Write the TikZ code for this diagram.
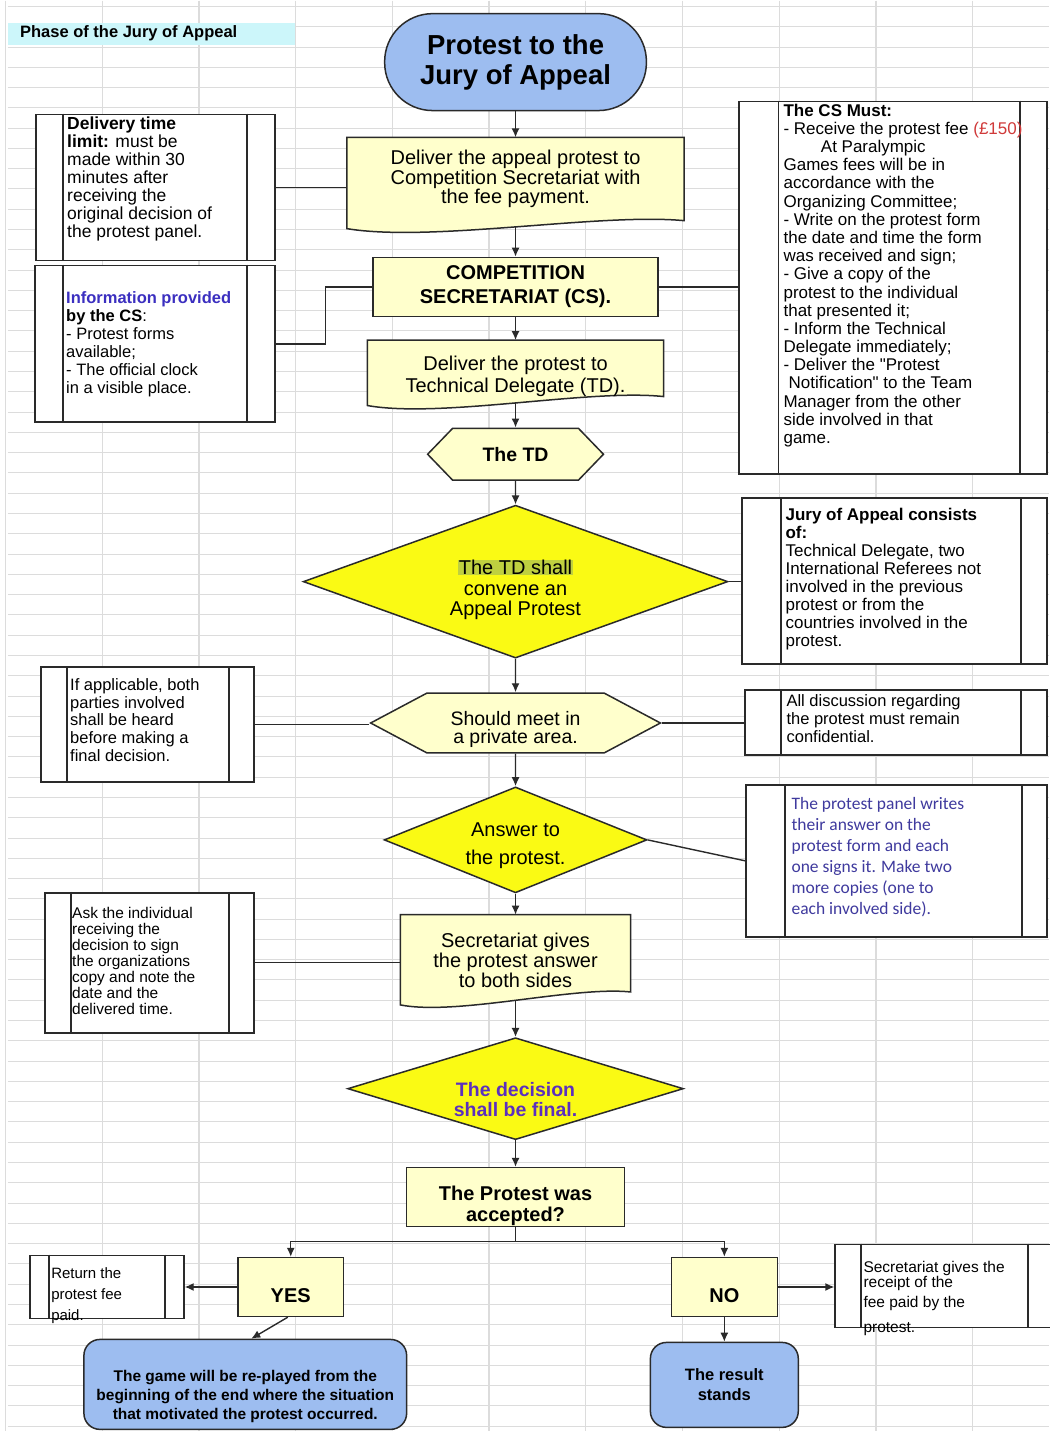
\documentclass[tikz,border=0pt]{standalone}
\usepackage{fontspec}
\setmainfont{Liberation Sans}
\newfontfamily\panelfont{Carlito}
\usepackage{xcolor}
\usepackage{tikz}
\usetikzlibrary{positioning,calc,backgrounds}
\usetikzlibrary{shapes.geometric,shapes.symbols}
\usetikzlibrary{arrows.meta}

\definecolor{startblue}{HTML}{9DBDF0}
\definecolor{paleyellow}{HTML}{FFFFCC}
\definecolor{brightyellow}{HTML}{FAFA14}
\definecolor{titlecyan}{HTML}{CCF6FA}
\definecolor{gridgray}{HTML}{DCDCDC}
\definecolor{infoblue}{HTML}{3B2FC0}
\definecolor{panelblue}{HTML}{3F3A9E}
\definecolor{decisionpurple}{HTML}{5B2FBF}
\definecolor{feered}{HTML}{D03A3A}
\definecolor{lineblack}{HTML}{2A2A2A}
\definecolor{tdgreen}{HTML}{BFD040}

\begin{document}
\begin{tikzpicture}[x=1pt, y=-1pt,
  flowline/.style={draw=lineblack, line width=1.4pt},
  flowarrow/.style={flowline, -{Latex[length=9pt,width=8pt]}},
  flowbox/.style={draw=lineblack, line width=1.5pt, fill=paleyellow, shape=rectangle, align=center, inner sep=0pt},
  docbox/.style={shape=rectangle, align=center, inner sep=0pt},
  docline/.style={draw=lineblack, line width=1.5pt, fill=paleyellow},
  hexbox/.style={draw=lineblack, line width=1.5pt, fill=paleyellow, shape=signal, signal to=west and east, align=center, inner sep=0pt},
  decision/.style={draw=lineblack, line width=1.5pt, fill=brightyellow, shape=diamond, align=center, inner sep=0pt},
  terminal/.style={draw=lineblack, line width=1.5pt, fill=startblue, shape=rectangle, align=center, inner sep=0pt},
  barline/.style={draw=lineblack, line width=1.8pt},
  procbox/.style 2 args={draw=lineblack, line width=1.8pt, fill=white, shape=rectangle, inner sep=0pt,
    append after command={([xshift=#1]\tikzlastnode.north west) edge[barline] ([xshift=#1]\tikzlastnode.south west)
      ([xshift=-#2]\tikzlastnode.north east) edge[barline] ([xshift=-#2]\tikzlastnode.south east)}},
  note/.style={anchor=north west, align=left, inner sep=0pt},
]
\begin{scope}[on background layer]
\fill[white] (0,0) rectangle (1050,1432);
\foreach \r in {0,...,70}
  \draw[gridgray, line width=0.8pt] (8,5.7+20.3*\r) -- (1050,5.7+20.3*\r);
\foreach \c in {0,...,10}
  \draw[gridgray, line width=1.3pt] (5.5+96.8*\c,0) -- (5.5+96.8*\c,1432);
\end{scope}
\useasboundingbox (0,0) rectangle (1050,1432);

\fill[titlecyan] (8,22) rectangle (295,44);
\node[anchor=west, inner sep=0pt, font=\bfseries\fontsize{16.5}{18}\selectfont] (title) at (20,33) {Phase of the Jury of Appeal};

\node[terminal, minimum width=262pt, minimum height=97pt, rounded corners=48pt, font=\bfseries\fontsize{27.5}{30}\selectfont] (start) at (516,61.5) {Protest to the\\Jury of Appeal};
\node[docbox, minimum width=337pt, minimum height=83pt, font=\fontsize{20}{18.5}\selectfont] (dlv) at (516,178.5) {Deliver the appeal protest to\\Competition Secretariat with\\the fee payment.};
\node[flowbox, minimum width=285pt, minimum height=59pt, font=\bfseries\fontsize{20}{24}\selectfont] (cs) at (516,286.5) {COMPETITION\\SECRETARIAT (CS).};
\node[docbox, minimum width=296pt, minimum height=56pt, font=\fontsize{20}{22}\selectfont] (tdd) at (516,368) {\rule{0pt}{30pt}Deliver the protest to\\Technical Delegate (TD).};
\node[hexbox, minimum width=176pt, minimum height=52pt, signal pointer angle=92, font=\bfseries\fontsize{19.5}{22}\selectfont] (td) at (516,454) {The TD};
\node[decision, minimum width=425pt, minimum height=153pt, aspect=2.8, font=\fontsize{20}{20.5}\selectfont] (d1) at (516,581.5) {\rule{0pt}{31pt}\setlength{\fboxsep}{0.5pt}\colorbox{tdgreen}{The TD shall}\\convene an\\Appeal Protest};
\node[hexbox, minimum width=290pt, minimum height=60pt, signal pointer angle=56, font=\fontsize{19.5}{18.5}\selectfont] (meet) at (516,723) {\rule{0pt}{27pt}Should meet in\\a private area.};
\node[decision, minimum width=263pt, minimum height=106pt, aspect=2.5, font=\fontsize{20}{28}\selectfont] (ans) at (516,840) {\rule{0pt}{26pt}Answer to\\the protest.};
\node[docbox, minimum width=230pt, minimum height=77pt, font=\fontsize{20}{20}\selectfont] (sga) at (516,953.5) {\rule{0pt}{28pt}Secretariat gives\\the protest answer\\to both sides};
\node[decision, minimum width=336pt, minimum height=102pt, aspect=3.3, text=decisionpurple, font=\bfseries\fontsize{19.5}{20}\selectfont] (fin) at (516,1089) {\rule{0pt}{36pt}The decision\\shall be final.};
\node[flowbox, minimum width=218pt, minimum height=59pt, font=\bfseries\fontsize{20}{21}\selectfont] (acc) at (516,1197.5) {\rule{0pt}{32pt}The Protest was\\accepted?};
\node[flowbox, minimum width=106pt, minimum height=59pt, font=\bfseries\fontsize{20}{22}\selectfont] (yes) at (291,1287.5) {\rule{0pt}{31pt}YES};
\node[flowbox, minimum width=106pt, minimum height=59pt, font=\bfseries\fontsize{20}{22}\selectfont] (no) at (725,1287.5) {\rule{0pt}{31pt}NO};
\node[terminal, rounded corners=16pt, minimum width=323pt, minimum height=90pt, font=\bfseries\fontsize{15.5}{19}\selectfont] (game) at (245.5,1385) {\rule{0pt}{36pt}The game will be re-played from the\\beginning of the end where the situation\\that motivated the protest occurred.};
\node[terminal, rounded corners=16pt, minimum width=148pt, minimum height=85pt, font=\bfseries\fontsize{16.5}{20}\selectfont] (res) at (725,1385.5) {The result\\stands};

\begin{scope}[on background layer]
\draw[docline] (dlv.north west) -- (dlv.north east) -- (dlv.south east)
  .. controls ($(dlv.south)!0.5!(dlv.south east)+(0pt,8pt)$) and ($(dlv.south)!0.5!(dlv.south west)+(0pt,-22pt)$) .. ([yshift=-8pt]dlv.south west) -- cycle;
\draw[docline] (tdd.north west) -- (tdd.north east) -- (tdd.south east)
  .. controls ($(tdd.south)!0.5!(tdd.south east)+(0pt,8pt)$) and ($(tdd.south)!0.5!(tdd.south west)+(0pt,-22pt)$) .. ([yshift=-9pt]tdd.south west) -- cycle;
\draw[docline] (sga.north west) -- (sga.north east) -- (sga.south east)
  .. controls ($(sga.south)!0.5!(sga.south east)+(0pt,6pt)$) and ($(sga.south)!0.5!(sga.south west)+(0pt,-24pt)$) .. ([yshift=-13pt]sga.south west) -- cycle;
\end{scope}

\node[procbox={28pt}{29pt}, minimum width=239pt, minimum height=146pt] (del) at (155.5,187) {};
\node[note, font=\fontsize{17.5}{18}\selectfont] (deltext) at ([xshift=32pt,yshift=-3pt]del.north west) {\textbf{Delivery time}\\\textbf{limit:} must be\\made within 30\\minutes after\\receiving the\\original decision of\\the protest panel.};
\node[procbox={29pt}{29pt}, minimum width=240pt, minimum height=157pt] (info) at (155,343.5) {};
\node[anchor=west, align=left, inner sep=0pt, font=\fontsize{16.5}{18}\selectfont] (infotext) at ([xshift=32pt]info.west) {\textcolor{infoblue}{\textbf{Information provided}}\\\textbf{by the CS}:\\- Protest forms\\available;\\- The official clock\\in a visible place.};
\node[procbox={40pt}{28pt}, minimum width=308pt, minimum height=373pt] (must) at (894,287.5) {};
\node[note, font=\fontsize{17}{18.2}\selectfont] (musttext) at ([xshift=45pt,yshift=-3pt]must.north west) {\textbf{The CS Must:}\\- Receive the protest fee \textcolor{feered}{(£150)}\\\hspace*{2.2em}At Paralympic\\Games fees will be in\\accordance with the\\Organizing Committee;\\- Write on the protest form\\the date and time the form\\was received and sign;\\- Give a copy of the\\protest to the individual\\that presented it;\\- Inform the Technical\\Delegate immediately;\\- Deliver the \textquotedbl Protest\\\hspace*{0.3em}Notification\textquotedbl{} to the Team\\Manager from the other\\side involved in that\\game.};
\node[procbox={40pt}{27pt}, minimum width=305pt, minimum height=166pt] (jury) at (895.5,581) {};
\node[note, font=\fontsize{17}{18}\selectfont] (jurytext) at ([xshift=44pt,yshift=-11pt]jury.north west) {\textbf{Jury of Appeal consists}\\\textbf{of:}\\Technical Delegate, two\\International Referees not\\involved in the previous\\protest or from the\\countries involved in the\\protest.};
\node[procbox={37pt}{27pt}, minimum width=302pt, minimum height=65pt] (conf) at (897,722.5) {};
\node[note, font=\fontsize{16.5}{18}\selectfont] (conftext) at ([xshift=42pt,yshift=-5pt]conf.north west) {All discussion regarding\\the protest must remain\\confidential.};
\node[procbox={40pt}{26pt}, minimum width=301pt, minimum height=152pt] (panel) at (897.5,861) {};
\node[note, text=panelblue, font=\panelfont\fontsize{17.5}{21}\selectfont] (paneltext) at ([xshift=46pt,yshift=-13pt]panel.north west) {The protest panel writes\\their answer on the\\protest form and each\\one signs it. Make two\\more copies (one to\\each involved side).};
\node[procbox={27pt}{26pt}, minimum width=213pt, minimum height=115pt] (ifap) at (147.5,724.5) {};
\node[note, font=\fontsize{16.5}{17.8}\selectfont] (ifaptext) at ([xshift=30pt,yshift=-12pt]ifap.north west) {If applicable, both\\parties involved\\shall be heard\\before making a\\final decision.};
\node[procbox={27pt}{26pt}, minimum width=209pt, minimum height=140pt] (ask) at (149.5,963) {};
\node[note, font=\fontsize{15.5}{16}\selectfont] (asktext) at ([xshift=28pt,yshift=-15pt]ask.north west) {Ask the individual\\receiving the\\decision to sign\\the organizations\\copy and note the\\date and the\\delivered time.};
\node[procbox={20pt}{20pt}, minimum width=154pt, minimum height=63pt] (ret) at (107,1287.5) {};
\node[note, font=\fontsize{15}{21}\selectfont] (rettext) at ([xshift=22pt,yshift=-13pt]ret.north west) {Return the\\protest fee\\paid.};
\node[procbox={27pt}{30pt}, minimum width=222pt, minimum height=83pt] (rcp) at (947,1286.5) {};
\node[note, font=\fontsize{15.5}{13}\selectfont] (rcptext) at ([xshift=29pt,yshift=-17pt]rcp.north west) {Secretariat gives the\\receipt of the\\[5pt]fee paid by the\\[10pt]protest.};

\draw[flowarrow] (start) -- (dlv);
\draw[flowarrow] ([yshift=-6pt]dlv.south) -- (cs.north);
\draw[flowarrow] (cs) -- (tdd);
\draw[flowarrow] ([yshift=-6pt]tdd.south) -- (td.north);
\draw[flowarrow] (td) -- (d1);
\draw[flowarrow] (d1) -- (meet);
\draw[flowarrow] (meet) -- (ans);
\draw[flowarrow] (ans) -- (sga);
\draw[flowarrow] ([yshift=-8pt]sga.south) -- (fin.north);
\draw[flowarrow] (fin) -- (acc);
\coordinate (split) at (516,1242);
\draw[flowline] (acc.south) -- (split);
\draw[flowarrow] (split) -| (yes.north);
\draw[flowarrow] (split) -| (no.north);
\draw[flowarrow] (yes.west) -- (ret.east);
\draw[flowarrow] (no.east) -- (no.east -| rcp.west);
\draw[flowarrow] ([xshift=-3pt]yes.south) -- ([xshift=6pt]game.north);
\draw[flowarrow] (no.south) -- (res.north);

\draw[flowline] (del.east) -- (del.east -| dlv.west);
\draw[flowline] (info.east) -- ++(50,0) |- (cs.west);
\draw[flowline] (cs.east) -- (cs.east -| must.west);
\draw[flowline] (d1.east) -- (d1.east -| jury.west);
\draw[flowline] (meet.east) -- (meet.east -| conf.west);
\draw[flowline] (ifap.east) -- (ifap.east -| meet.west);
\draw[flowline] (ans.east) -- (panel.west);
\draw[flowline] (ask.east) -- (ask.east -| sga.west);
\end{tikzpicture}
\end{document}
